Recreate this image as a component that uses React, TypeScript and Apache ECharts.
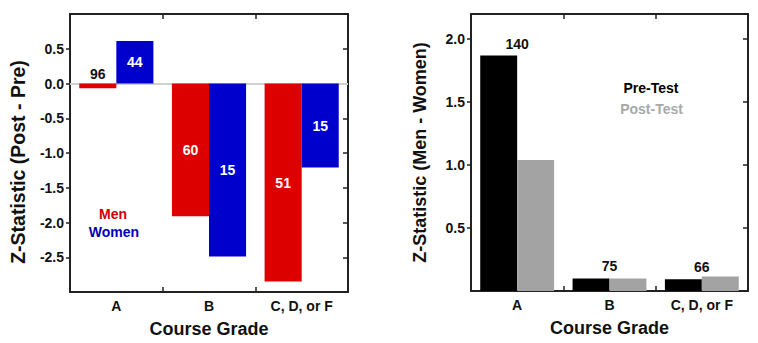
import React, { useEffect, useRef } from "react";
import * as echarts from "echarts";

const categories = ["A", "B", "C, D, or F"];
const menValues = [-0.07, -1.91, -2.85];
const womenValues = [0.61, -2.49, -1.21];
const menCounts = [96, 60, 51];
const womenCounts = [44, 15, 15];
const preValues = [1.87, 0.1, 0.093];
const postValues = [1.04, 0.1, 0.115];
const pairCounts = [140, 75, 66];

const FONT = "'Liberation Sans', Arial, Helvetica, sans-serif";
const FRAME = "#222";

function frameXAxis(gridIndex: number, position: "top" | "bottom", showLabel: boolean) {
  return {
    type: "category",
    gridIndex,
    position,
    data: categories,
    axisLine: { show: true, onZero: false, lineStyle: { color: FRAME, width: 2 } },
    axisTick: { show: true, inside: true, length: 5, lineStyle: { color: FRAME, width: 1.5 } },
    axisLabel: {
      show: showLabel,
      color: "#111",
      fontFamily: FONT,
      fontWeight: "bold",
      fontSize: 14,
      margin: 7,
    },
    splitLine: { show: false },
    name: showLabel ? "Course Grade" : "",
    nameLocation: "middle",
    nameGap: 28,
    nameTextStyle: { color: "#111", fontFamily: FONT, fontWeight: "bold", fontSize: 18 },
  };
}

function frameYAxis(
  gridIndex: number,
  position: "left" | "right",
  min: number,
  max: number,
  name: string
) {
  const left = position === "left";
  return {
    type: "value",
    gridIndex,
    position,
    min,
    max,
    interval: 0.5,
    axisLine: { show: true, onZero: false, lineStyle: { color: FRAME, width: 2 } },
    axisTick: {
      show: true,
      inside: !left,
      length: left ? 4 : 5,
      lineStyle: { color: FRAME, width: 1.5 },
    },
    axisLabel: {
      show: left,
      showMinLabel: false,
      showMaxLabel: false,
      color: "#111",
      fontFamily: FONT,
      fontWeight: "bold",
      fontSize: 14,
      margin: 6,
      formatter: (v: number) => v.toFixed(1),
    },
    splitLine: { show: false },
    name: name,
    nameLocation: "middle",
    nameGap: 42,
    nameTextStyle: { color: "#111", fontFamily: FONT, fontWeight: "bold", fontSize: 18 },
  };
}

export default function App() {
  const ref = useRef<HTMLDivElement>(null);

  useEffect(() => {
    if (!ref.current) return;
    const chart = echarts.init(ref.current, undefined, { renderer: "svg" });
    const barLabel = { fontFamily: FONT, fontWeight: "bold", fontSize: 14 };

    const option = {
      animation: false,
      backgroundColor: "#fff",
      grid: [
        { left: 70, right: 410, top: 14, bottom: 50, containLabel: false },
        { left: 471, right: 10, top: 14, bottom: 52, containLabel: false },
      ],
      xAxis: [
        frameXAxis(0, "bottom", true),
        frameXAxis(0, "top", false),
        frameXAxis(1, "bottom", true),
        frameXAxis(1, "top", false),
      ],
      yAxis: [
        frameYAxis(0, "left", -3, 1, ""),
        frameYAxis(0, "right", -3, 1, ""),
        frameYAxis(1, "left", 0, 2.2, "Z-Statistic (Men - Women)"),
        frameYAxis(1, "right", 0, 2.2, ""),
      ],
      series: [
        {
          name: "Men",
          type: "bar",
          xAxisIndex: 0,
          yAxisIndex: 0,
          z: 3,
          barGap: "0%",
          barCategoryGap: "20%",
          itemStyle: { color: "#dd0000" },
          data: menValues.map((v, i) => ({
            value: v,
            label: {
              show: true,
              position: i === 0 ? "top" : "inside",
              distance: 3,
              color: i === 0 ? "#111" : "#fff",
              formatter: String(menCounts[i]),
              ...barLabel,
            },
          })),
          markLine: {
            silent: true,
            z: 1,
            symbol: "none",
            label: { show: false },
            lineStyle: { color: "#d0d0d0", width: 2, type: "solid" },
            data: [{ yAxis: 0 }],
          },
        },
        {
          name: "Women",
          type: "bar",
          xAxisIndex: 0,
          yAxisIndex: 0,
          z: 3,
          barGap: "0%",
          barCategoryGap: "20%",
          itemStyle: { color: "#0000cc" },
          data: womenValues.map((v, i) => ({
            value: v,
            label: {
              show: true,
              position: "inside",
              color: "#fff",
              formatter: String(womenCounts[i]),
              ...barLabel,
            },
          })),
        },
        {
          name: "Pre-Test",
          type: "bar",
          xAxisIndex: 2,
          yAxisIndex: 2,
          barGap: "0%",
          barCategoryGap: "20%",
          itemStyle: { color: "#000" },
          data: preValues.map((v, i) => ({
            value: v,
            label: {
              show: true,
              position: "top",
              distance: 5,
              offset: [18.5, 0],
              color: "#111",
              formatter: String(pairCounts[i]),
              ...barLabel,
            },
          })),
        },
        {
          name: "Post-Test",
          type: "bar",
          xAxisIndex: 2,
          yAxisIndex: 2,
          barGap: "0%",
          barCategoryGap: "20%",
          itemStyle: { color: "#a3a3a3" },
          data: postValues,
        },
      ],
      graphic: [
        {
          type: "text",
          x: 18,
          y: 162,
          rotation: Math.PI / 2,
          style: {
            text: "Z-Statistic (Post - Pre)",
            fill: "#111",
            font: `bold 19.5px ${FONT}`,
            textAlign: "center",
            textVerticalAlign: "middle",
          },
        },
        {
          type: "text",
          x: 113,
          y: 214,
          style: {
            text: "Men",
            fill: "#cc0000",
            font: `bold 14px ${FONT}`,
            textAlign: "center",
            textVerticalAlign: "middle",
          },
        },
        {
          type: "text",
          x: 114,
          y: 232,
          style: {
            text: "Women",
            fill: "#0000b8",
            font: `bold 14px ${FONT}`,
            textAlign: "center",
            textVerticalAlign: "middle",
          },
        },
        {
          type: "text",
          x: 651,
          y: 88,
          style: {
            text: "Pre-Test",
            fill: "#000",
            font: `bold 14px ${FONT}`,
            textAlign: "center",
            textVerticalAlign: "middle",
          },
        },
        {
          type: "text",
          x: 651.5,
          y: 109,
          style: {
            text: "Post-Test",
            fill: "#a8a8a8",
            font: `bold 14px ${FONT}`,
            textAlign: "center",
            textVerticalAlign: "middle",
          },
        },
      ],
    };

    chart.setOption(option as any);
    return () => chart.dispose();
  }, []);

  return (
    <div
      ref={ref}
      style={{ position: "fixed", left: 0, top: 0, width: 758, height: 343 }}
    />
  );
}
